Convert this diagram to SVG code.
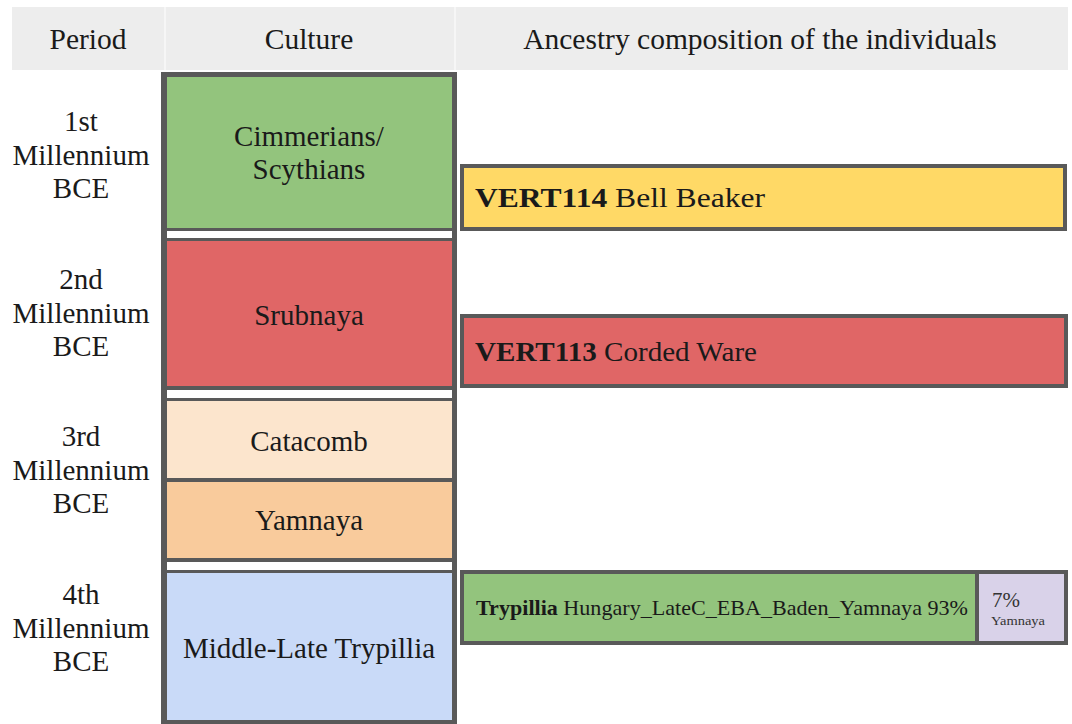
<svg xmlns="http://www.w3.org/2000/svg" width="1072" height="724" viewBox="0 0 1072 724">
<style>
text{font-family:"Liberation Serif","DejaVu Serif",serif;fill:#1a1a1a}
.h{font-size:29.5px;text-anchor:middle}
.p{font-size:29px;text-anchor:middle}
.c{font-size:29px;text-anchor:middle}
.box{stroke:#595959;stroke-width:4}
.b{font-weight:bold}
</style>
<rect width="1072" height="724" fill="#ffffff"/>
<g id="header">
<rect x="12" y="7" width="1056" height="63" fill="#ededed"/>
<line x1="165" y1="7" x2="165" y2="70" stroke="#f8f8f8" stroke-width="1.5"/>
<line x1="455" y1="7" x2="455" y2="70" stroke="#f8f8f8" stroke-width="1.5"/>
<text class="h" x="88" y="49">Period</text>
<text class="h" x="309" y="49">Culture</text>
<text class="h" x="760" y="49">Ancestry composition of the individuals</text>
</g>
<g id="periods">
<text class="p" x="81" y="131">1st</text>
<text class="p" x="81" y="165">Millennium</text>
<text class="p" x="81" y="198">BCE</text>
<text class="p" x="81" y="289">2nd</text>
<text class="p" x="81" y="323">Millennium</text>
<text class="p" x="81" y="356">BCE</text>
<text class="p" x="81" y="446">3rd</text>
<text class="p" x="81" y="480">Millennium</text>
<text class="p" x="81" y="513">BCE</text>
<text class="p" x="81" y="604">4th</text>
<text class="p" x="81" y="638">Millennium</text>
<text class="p" x="81" y="671">BCE</text>
</g>
<g id="culture-column">
<rect x="161" y="72" width="296" height="652" fill="#595959"/>
</g>
<g id="cimmerians">
<rect x="167" y="77" width="285" height="151" fill="#93c47d"/>
<text class="c" x="309" y="146">Cimmerians/</text>
<text class="c" x="309" y="179">Scythians</text>
</g>
<rect x="167" y="231" width="285" height="7" fill="#ffffff"/>
<g id="srubnaya">
<rect x="167" y="241" width="285" height="145" fill="#e06666"/>
<text class="c" x="309" y="325">Srubnaya</text>
</g>
<rect x="167" y="390" width="285" height="8" fill="#ffffff"/>
<g id="catacomb">
<rect x="167" y="401" width="285" height="77" fill="#fce5cd"/>
<text class="c" x="309" y="451">Catacomb</text>
</g>
<g id="yamnaya">
<rect x="167" y="482" width="285" height="76" fill="#f9cb9c"/>
<text class="c" x="309" y="530">Yamnaya</text>
</g>
<rect x="167" y="562" width="285" height="8" fill="#ffffff"/>
<g id="trypillia-culture">
<rect x="167" y="573" width="285" height="147" fill="#c9daf8"/>
<text class="c" x="309" y="658">Middle-Late Trypillia</text>
</g>
<g id="vert114">
<rect class="box" x="462" y="166" width="603" height="63" fill="#ffd966"/>
<text x="475" y="207" style="font-size:28px" textLength="290" lengthAdjust="spacingAndGlyphs"><tspan class="b">VERT114</tspan> Bell Beaker</text>
</g>
<g id="vert113">
<rect class="box" x="462" y="316" width="604" height="70" fill="#e06666"/>
<text x="475" y="361" style="font-size:28px" textLength="282" lengthAdjust="spacingAndGlyphs"><tspan class="b">VERT113</tspan> Corded Ware</text>
</g>
<g id="trypillia-ancestry">
<rect class="box" x="462" y="572" width="515" height="71" fill="#93c47d"/>
<rect class="box" x="977" y="572" width="89" height="71" fill="#d9d2e9"/>
<text x="476" y="615" style="font-size:22px" textLength="492" lengthAdjust="spacingAndGlyphs"><tspan class="b">Trypillia</tspan> Hungary_LateC_EBA_Baden_Yamnaya 93%</text>
<text x="992" y="607" style="font-size:21px;fill:#333" textLength="28" lengthAdjust="spacingAndGlyphs">7%</text>
<text x="991" y="625" style="font-size:13px;fill:#333" textLength="54" lengthAdjust="spacingAndGlyphs">Yamnaya</text>
</g>
</svg>
